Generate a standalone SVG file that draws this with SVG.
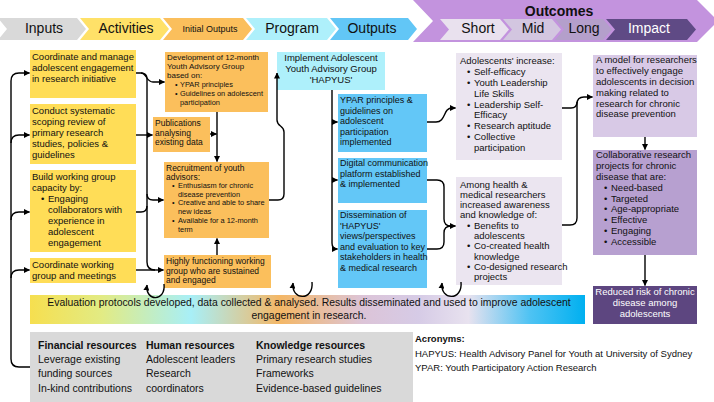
<svg xmlns="http://www.w3.org/2000/svg" width="714" height="402" viewBox="0 0 714 402">
<defs>
<marker id="ah" markerWidth="6" markerHeight="6" refX="5.5" refY="3" orient="auto" markerUnits="userSpaceOnUse">
<path d="M0,0 L6,3 L0,6 z" fill="#000"/>
</marker>
<linearGradient id="evalg" x1="0" y1="0" x2="1" y2="0">
<stop offset="0" stop-color="#f6df4f"/>
<stop offset="0.13" stop-color="#e2eb84"/>
<stop offset="0.29" stop-color="#a8eff7"/>
<stop offset="0.45" stop-color="#f4b766"/>
<stop offset="0.60" stop-color="#dcc4d8"/>
<stop offset="0.70" stop-color="#d6cbe6"/>
<stop offset="0.79" stop-color="#e8e2ef"/>
<stop offset="0.90" stop-color="#4fc3f3"/>
<stop offset="1" stop-color="#00b0f0"/>
</linearGradient>
</defs>
<style>
text{font-family:"Liberation Sans",Arial,sans-serif;fill:#111;}
.hd{font-size:14px;}
.a{font-size:9.5px;}
.io{font-size:8px;}
.iob{font-size:7.4px;}
.o{font-size:9px;}
.s{font-size:9.5px;}
.r{font-size:10.5px;}
.rb{font-size:10.5px;font-weight:bold;}
.ac{font-size:9.5px;}
.w{fill:#fff;}
.c{text-anchor:middle;}
.ln{fill:none;stroke:#000;stroke-width:1.4;}
.act{fill:#ffdd57;}
.ini{fill:#fbbf5c;}
.prg{fill:#aef0fb;}
.out{fill:#63c7f7;}
.sh{fill:#ebe5f0;}
</style>

<g id="header">
<polygon points="413,0 697,0 718,21 697,42 413,42 433,21" fill="#c393de"/>
<polygon points="-2,18 77,18 86,29 77,40 -2,40 7,29" fill="#d9d9d9"/>
<polygon points="80,18 160,18 169,29 160,40 80,40 89,29" fill="#ffe168"/>
<polygon points="163,18 243,18 252,29 243,40 163,40 172,29" fill="#fbbf5c"/>
<polygon points="246,18 327,18 336,29 327,40 246,40 255,29" fill="#aef0fb"/>
<polygon points="330,18 408,18 417,29 408,40 330,40 339,29" fill="#62c6f6"/>
<polygon points="440,19 500,19 509,29.5 500,40 440,40 449,29.5" fill="#e9e1ee"/>
<polygon points="503,19 552,19 561,29.5 552,40 503,40 512,29.5" fill="#d3c6e0"/>
<polygon points="555,19 603,19 612,29.5 603,40 555,40 564,29.5" fill="#b49fcb"/>
<polygon points="606,19 687,19 696,29.5 687,40 606,40 615,29.5" fill="#5f4a85"/>
<text class="hd c" x="44" y="33">Inputs</text>
<text class="hd c" x="126" y="33">Activities</text>
<text class="c" x="210" y="31.5" style="font-size:9px">Initial Outputs</text>
<text class="hd c" x="292" y="33">Program</text>
<text class="hd c" x="372" y="33">Outputs</text>
<text class="c" x="559" y="16" style="font-size:14px;font-weight:bold">Outcomes</text>
<text class="hd c" x="478" y="33">Short</text>
<text class="hd c" x="533" y="33">Mid</text>
<text class="hd c" x="584" y="33">Long</text>
<text class="hd c w" x="649" y="33">Impact</text>
</g>

<g id="evaluation">
<rect x="30" y="295" width="555" height="29" fill="url(#evalg)"/>
<text class="c" x="309" y="306" style="font-size:10.4px">Evaluation protocols developed, data collected &amp; analysed. Results disseminated and used to improve adolescent</text>
<text class="c" x="309" y="318.5" style="font-size:10.4px">engagement in research.</text>
</g>

<g id="resources">
<rect x="30" y="332" width="383" height="70" fill="#d9d9d9"/>
<text class="rb" x="38" y="349">Financial resources</text>
<text class="r" x="38" y="363">Leverage existing</text>
<text class="r" x="38" y="377">funding sources</text>
<text class="r" x="38" y="392">In-kind contributions</text>
<text class="rb" x="146" y="349">Human resources</text>
<text class="r" x="146" y="363">Adolescent leaders</text>
<text class="r" x="146" y="377">Research</text>
<text class="r" x="146" y="392">coordinators</text>
<text class="rb" x="256" y="349">Knowledge resources</text>
<text class="r" x="256" y="363">Primary research studies</text>
<text class="r" x="256" y="377">Frameworks</text>
<text class="r" x="256" y="392">Evidence-based guidelines</text>
</g>

<g id="acronyms">
<text class="ac" x="415" y="342" style="font-weight:bold">Acronyms:</text>
<text class="ac" x="415" y="357">HAPYUS: Health Advisory Panel for Youth at University of Sydney</text>
<text class="ac" x="415" y="371">YPAR: Youth Participatory Action Research</text>
</g>

<g id="act1"><rect class="act" x="30" y="50" width="106" height="48"/>
<text class="a" x="32"><tspan x="32" y="59.5">Coordinate and manage</tspan><tspan x="32" y="70.5">adolescent engagement</tspan><tspan x="32" y="81.5">in research initiative</tspan></text></g>
<g id="act2"><rect class="act" x="30" y="104" width="106" height="60"/>
<text class="a"><tspan x="32" y="113.5">Conduct systematic</tspan><tspan x="32" y="124.5">scoping review of</tspan><tspan x="32" y="135.5">primary research</tspan><tspan x="32" y="146.5">studies, policies &amp;</tspan><tspan x="32" y="157.5">guidelines</tspan></text></g>
<g id="act3"><rect class="act" x="30" y="170" width="106" height="82"/>
<text class="a"><tspan x="32" y="179.5">Build working group</tspan><tspan x="32" y="190.5">capacity by:</tspan><tspan x="41" y="201.5">•</tspan><tspan x="48" y="201.5">Engaging</tspan><tspan x="48" y="212.5">collaborators with</tspan><tspan x="48" y="223.5">experience in</tspan><tspan x="48" y="234.5">adolescent</tspan><tspan x="48" y="245.5">engagement</tspan></text></g>
<g id="act4"><rect class="act" x="30" y="258" width="106" height="25"/>
<text class="a"><tspan x="32" y="267.5">Coordinate working</tspan><tspan x="32" y="278.5">group and meetings</tspan></text></g>

<g id="init1"><rect class="ini" x="165" y="52" width="103" height="60"/>
<text class="io"><tspan x="167" y="60">Development of 12-month</tspan><tspan x="167" y="69.2">Youth Advisory Group</tspan><tspan x="167" y="78.4">based on:</tspan></text>
<text class="iob"><tspan x="175" y="87">•</tspan><tspan x="180" y="87">YPAR principles</tspan><tspan x="175" y="96">•</tspan><tspan x="180" y="96">Guidelines on adolescent</tspan><tspan x="180" y="105">participation</tspan></text></g>
<g id="init2"><rect class="ini" x="153" y="117" width="57" height="35"/>
<text style="font-size:8.5px"><tspan x="155" y="126">Publications</tspan><tspan x="155" y="135.7">analysing</tspan><tspan x="155" y="145.4">existing data</tspan></text></g>
<g id="init3"><rect class="ini" x="164" y="162" width="105" height="76"/>
<text style="font-size:8.5px"><tspan x="166" y="170.5">Recruitment of youth</tspan><tspan x="166" y="179.5">advisors:</tspan></text>
<text class="iob"><tspan x="172" y="188">•</tspan><tspan x="178" y="188">Enthusiasm for chronic</tspan><tspan x="178" y="196.7">disease prevention</tspan><tspan x="172" y="205.4">•</tspan><tspan x="178" y="205.4">Creative and able to share</tspan><tspan x="178" y="214.1">new ideas</tspan><tspan x="172" y="222.8">•</tspan><tspan x="178" y="222.8">Available for a 12-month</tspan><tspan x="178" y="231.5">term</tspan></text></g>
<g id="init4"><rect class="ini" x="164" y="255" width="107" height="33"/>
<text style="font-size:8.5px"><tspan x="166" y="264">Highly functioning working</tspan><tspan x="166" y="273.5">group who are sustained</tspan><tspan x="166" y="283">and engaged</tspan></text></g>

<g id="program"><rect class="prg" x="277" y="52" width="108" height="38"/>
<text class="c" style="font-size:9.5px"><tspan x="331" y="60.5">Implement Adolescent</tspan><tspan x="331" y="71.5">Youth Advisory Group</tspan><tspan x="331" y="82.5">'HAPYUS'</tspan></text></g>

<g id="out1"><rect class="out" x="338" y="94" width="89" height="58"/>
<text class="o"><tspan x="340" y="103">YPAR principles &amp;</tspan><tspan x="340" y="113.5">guidelines on</tspan><tspan x="340" y="124">adolescent</tspan><tspan x="340" y="134.5">participation</tspan><tspan x="340" y="145">implemented</tspan></text></g>
<g id="out2"><rect class="out" x="338" y="158" width="89" height="45"/>
<text class="o"><tspan x="340" y="166">Digital communication</tspan><tspan x="340" y="176.5">platform established</tspan><tspan x="340" y="187">&amp; implemented</tspan></text></g>
<g id="out3"><rect class="out" x="338" y="210" width="89" height="78"/>
<text class="o"><tspan x="340" y="218">Dissemination of</tspan><tspan x="340" y="228.5">'HAPYUS'</tspan><tspan x="340" y="239">views/perspectives</tspan><tspan x="340" y="249.5">and evaluation to key</tspan><tspan x="340" y="260">stakeholders in health</tspan><tspan x="340" y="270.5">&amp; medical research</tspan></text></g>

<g id="short1"><rect class="sh" x="456" y="53" width="106" height="107"/>
<text class="s"><tspan x="460" y="64.4">Adolescents' increase:</tspan><tspan x="467" y="75.2">•</tspan><tspan x="474" y="75.2">Self-efficacy</tspan><tspan x="467" y="86">•</tspan><tspan x="474" y="86">Youth Leadership</tspan><tspan x="474" y="96.8">Life Skills</tspan><tspan x="467" y="107.6">•</tspan><tspan x="474" y="107.6">Leadership Self-</tspan><tspan x="474" y="118.4">Efficacy</tspan><tspan x="467" y="129.2">•</tspan><tspan x="474" y="129.2">Research aptitude</tspan><tspan x="467" y="140">•</tspan><tspan x="474" y="140">Collective</tspan><tspan x="474" y="150.8">participation</tspan></text></g>
<g id="short2"><rect class="sh" x="456" y="177" width="106" height="108"/>
<text class="s"><tspan x="460" y="187.5">Among health &amp;</tspan><tspan x="460" y="197.8">medical researchers</tspan><tspan x="460" y="208.1">increased awareness</tspan><tspan x="460" y="218.4">and knowledge of:</tspan><tspan x="467" y="228.7">•</tspan><tspan x="474" y="228.7">Benefits to</tspan><tspan x="474" y="239">adolescents</tspan><tspan x="467" y="249.3">•</tspan><tspan x="474" y="249.3">Co-created health</tspan><tspan x="474" y="259.6">knowledge</tspan><tspan x="467" y="269.9">•</tspan><tspan x="474" y="269.9">Co-designed research</tspan><tspan x="474" y="280.2">projects</tspan></text></g>

<g id="long1"><rect x="593" y="55" width="104" height="82" fill="#d8c9e6"/>
<text class="s"><tspan x="596" y="63.4">A model for researchers</tspan><tspan x="596" y="74.2">to effectively engage</tspan><tspan x="596" y="85">adolescents in decision</tspan><tspan x="596" y="95.8">making related to</tspan><tspan x="596" y="106.6">research for chronic</tspan><tspan x="596" y="117.4">disease prevention</tspan></text></g>
<g id="long2"><rect x="593" y="150" width="104" height="105" fill="#b7a0d0"/>
<text class="s"><tspan x="596" y="158.4">Collaborative research</tspan><tspan x="596" y="169.2">projects for chronic</tspan><tspan x="596" y="180">disease that are:</tspan><tspan x="604" y="190.8">•</tspan><tspan x="611" y="190.8">Need-based</tspan><tspan x="604" y="201.6">•</tspan><tspan x="611" y="201.6">Targeted</tspan><tspan x="604" y="212.4">•</tspan><tspan x="611" y="212.4">Age-appropriate</tspan><tspan x="604" y="223.2">•</tspan><tspan x="611" y="223.2">Effective</tspan><tspan x="604" y="234">•</tspan><tspan x="611" y="234">Engaging</tspan><tspan x="604" y="244.8">•</tspan><tspan x="611" y="244.8">Accessible</tspan></text></g>
<g id="impact"><rect x="593" y="286" width="104" height="38" fill="#5d4680"/>
<text class="s c w"><tspan x="645" y="295.4">Reduced risk of chronic</tspan><tspan x="645" y="306.2">disease among</tspan><tspan x="645" y="317">adolescents</tspan></text></g>

<g id="connectors">
<path class="ln" d="M30,367 H19 Q11,367 11,359 V81 Q11,73 19,73 H29.5" marker-end="url(#ah)"/>
<path class="ln" d="M11,143 Q11,135 19,135 H29.5" marker-end="url(#ah)"/>
<path class="ln" d="M11,220 Q11,212 19,212 H29.5" marker-end="url(#ah)"/>
<path class="ln" d="M11,278 Q11,270 19,270 H29.5" marker-end="url(#ah)"/>
<path class="ln" d="M136,73 H141 Q147,73 147,79 V262 Q147,270 155,270"/>
<path class="ln" d="M141,73 C147,73 146,82 153,82 H164.5" marker-end="url(#ah)"/>
<path class="ln" d="M136,135 H152.5" marker-end="url(#ah)"/>
<path class="ln" d="M136,212 H141 Q147,212 147,206"/>
<path class="ln" d="M147,194 Q147,200 153,200 H163.5" marker-end="url(#ah)"/>
<path class="ln" d="M136,270 H163.5" marker-end="url(#ah)"/>
<path class="ln" d="M217,112 V161.5" marker-end="url(#ah)"/>
<path class="ln" d="M210,134 H216.5" marker-end="url(#ah)"/>
<path class="ln" d="M217,255 V238.5" marker-end="url(#ah)"/>
<path class="ln" d="M269,200 H278 Q284,200 284,194 V132 C284,125 277,127 277,120 V73" marker-end="url(#ah)"/>
<path class="ln" d="M332,90 V243 Q332,249 337.5,249" marker-end="url(#ah)"/>
<path class="ln" d="M332,122 H337.5" marker-end="url(#ah)"/>
<path class="ln" d="M332,180 H337.5" marker-end="url(#ah)"/>
<path class="ln" d="M427,122 H436 C446,122 443,108 452,108 H455.5" marker-end="url(#ah)"/>
<path class="ln" d="M427,180 H437 Q444,180 444,187 V219 Q444,226 451,226 H455.5" marker-end="url(#ah)"/>
<path class="ln" d="M427,249 H437 Q444,249 444,242 V233 Q444,226 451,226"/>
<path class="ln" d="M562,225 H570 Q577,225 577,218 V104 Q577,97 584,97 H592.5" marker-end="url(#ah)"/>
<path class="ln" d="M562,108 H571 Q577,108 577,102"/>
<path class="ln" d="M645,137 V149.5" marker-end="url(#ah)"/>
<path class="ln" d="M645,255 V285.5" marker-end="url(#ah)"/>
<path class="ln" d="M164,284 C166,302 145,302 147,285" marker-end="url(#ah)"/>
<path class="ln" d="M312,282 C314,301 291,301 293,283" marker-end="url(#ah)"/>
<path class="ln" d="M461,282 C463,301 440,301 442,283" marker-end="url(#ah)"/>
</g>
</svg>
